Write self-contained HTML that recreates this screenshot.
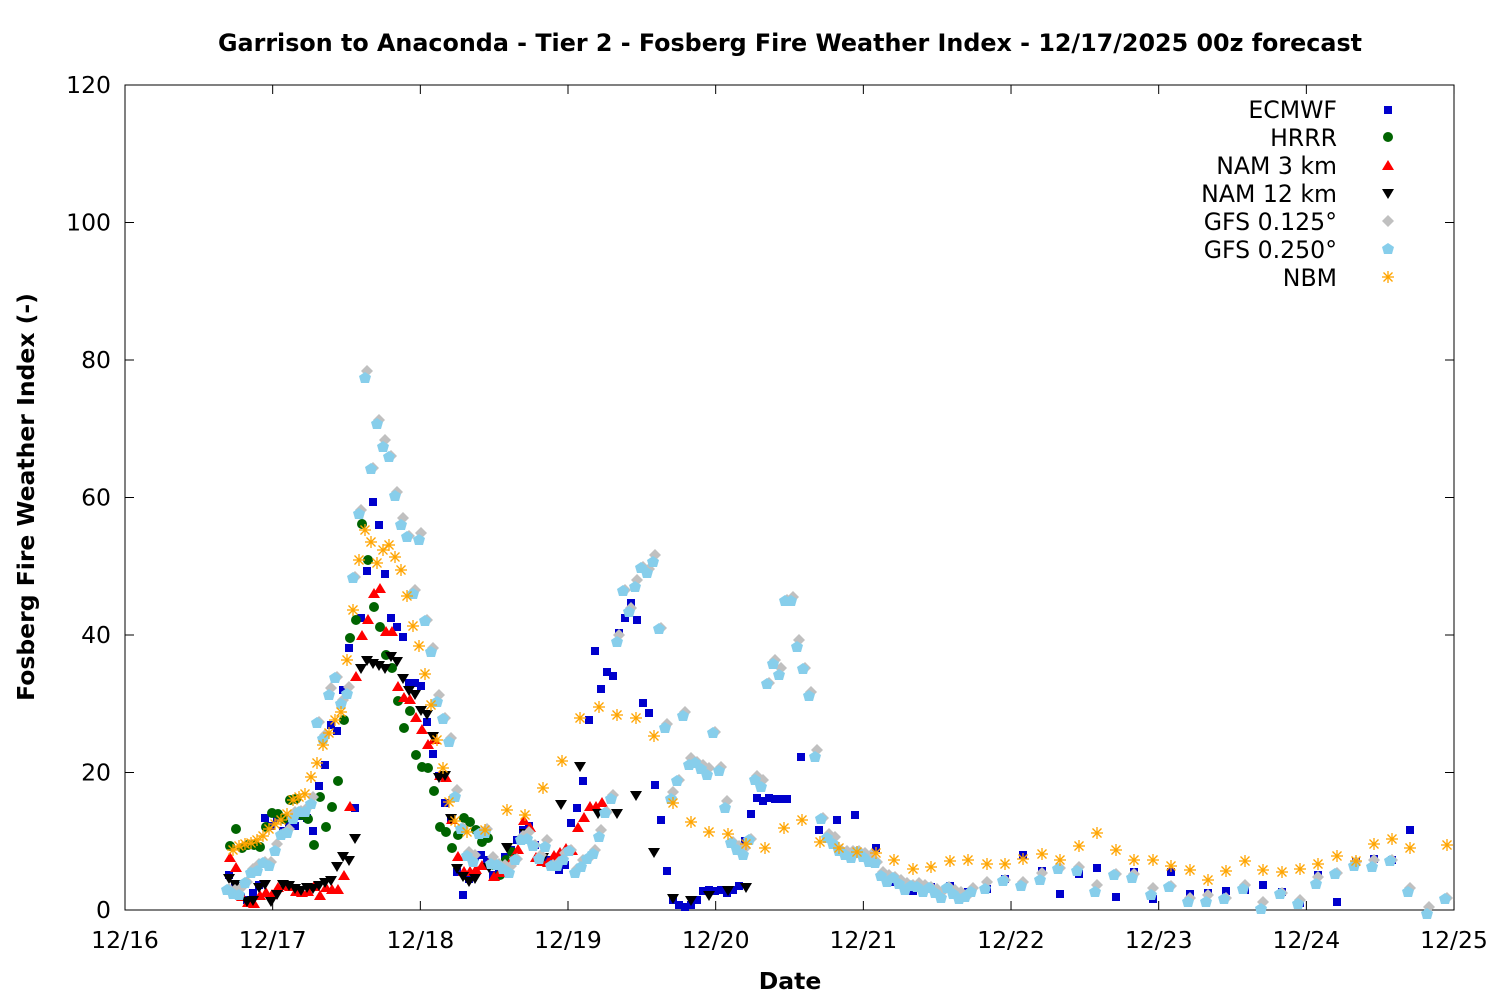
<!DOCTYPE html>
<html><head><meta charset="utf-8"><style>
html,body{margin:0;padding:0;background:#fff;}
svg{display:block;font-family:"DejaVu Sans","Liberation Sans",sans-serif;}
</style></head><body>
<svg id="s" width="1500" height="1000" viewBox="0 0 1500 1000" xmlns="http://www.w3.org/2000/svg">
<rect width="1500" height="1000" fill="#fff"/>
<text x="790" y="51" text-anchor="middle" font-size="23.8" font-weight="bold">Garrison to Anaconda - Tier 2 - Fosberg Fire Weather Index - 12/17/2025 00z forecast</text>
<rect x="125" y="85" width="1329" height="825" fill="none" stroke="#000" stroke-width="1"/>
<g id="ticks" stroke="#000" stroke-width="1"></g>
<g id="labels" font-size="23.5"></g>
<text x="790" y="989" text-anchor="middle" font-size="23.5" font-weight="bold">Date</text>
<text transform="translate(34,497) rotate(-90)" text-anchor="middle" font-size="23.5" font-weight="bold">Fosberg Fire Weather Index (-)</text>
<g font-size="23.6" text-anchor="end">
<text x="1337" y="118">ECMWF</text>
<text x="1337" y="146">HRRR</text>
<text x="1337" y="174">NAM 3 km</text>
<text x="1337" y="202">NAM 12 km</text>
<text x="1337" y="230">GFS 0.125°</text>
<text x="1337" y="258">GFS 0.250°</text>
<text x="1337" y="286">NBM</text>
</g>
<g id="pts"></g>
</svg>
<script>
const NS="http://www.w3.org/2000/svg";
const tk=document.getElementById('ticks'),lb=document.getElementById('labels'),pts=document.getElementById('pts');
function el(p,t,a,txt){const e=document.createElementNS(NS,t);for(const k in a)e.setAttribute(k,a[k]);if(txt!==undefined)e.textContent=txt;p.appendChild(e);return e;}
const xl=['12/16','12/17','12/18','12/19','12/20','12/21','12/22','12/23','12/24','12/25'];
for(let i=0;i<10;i++){const x=125+147.67*i;el(tk,'line',{x1:x,y1:910,x2:x,y2:901});el(tk,'line',{x1:x,y1:85,x2:x,y2:94});el(lb,'text',{x:x,y:948,'text-anchor':'middle'},xl[i]);}
for(let i=0;i<=6;i++){const y=910-137.5*i;el(tk,'line',{x1:125,y1:y,x2:134,y2:y});el(tk,'line',{x1:1454,y1:y,x2:1445,y2:y});el(lb,'text',{x:111,y:y+8,'text-anchor':'end'},String(i*20));}
function mk(type,x,y){
 if(type=='sq')el(pts,'rect',{x:x-4,y:y-4,width:8,height:8,fill:'#0000cc'});
 else if(type=='ci')el(pts,'circle',{cx:x,cy:y,r:5,fill:'#006400'});
 else if(type=='up')el(pts,'polygon',{points:`${x},${y-6} ${x+6},${y+4} ${x-6},${y+4}`,fill:'#ff0000'});
 else if(type=='dn')el(pts,'polygon',{points:`${x-6},${y-4} ${x+6},${y-4} ${x},${y+6}`,fill:'#000'});
 else if(type=='di')el(pts,'polygon',{points:`${x},${y-6} ${x+6},${y} ${x},${y+6} ${x-6},${y}`,fill:'#c0c0c0'});
 else if(type=='pe')el(pts,'polygon',{points:`${x},${y-6} ${x+6},${y-2} ${x+4},${y+5} ${x-4},${y+5} ${x-6},${y-2}`,fill:'#87ceeb'});
 else if(type=='as'){const g=el(pts,'g',{stroke:'#ffa500','stroke-width':1.3});el(g,'line',{x1:x-6,y1:y,x2:x+6,y2:y});el(g,'line',{x1:x,y1:y-6,x2:x,y2:y+6});el(g,'line',{x1:x-4.5,y1:y-4.5,x2:x+4.5,y2:y+4.5});el(g,'line',{x1:x-4.5,y1:y+4.5,x2:x+4.5,y2:y-4.5});}
}
function P(s){return s.match(/-?\d+/g).map(Number).reduce((a,v,i)=>{if(i%2==0)a.push([v]);else a[a.length-1].push(v);return a;},[]);}
const EC=P("(229,875),(235,885),(241,897),(247,900),(253,893),(259,885),(265,818),(271,826),(277,818),(283,831),(289,826),(295,826),(301,816),(307,818),(313,831),(319,786),(325,765),(331,725),(337,731),(343,690),(349,648),(355,808),(361,618),(367,571),(373,502),(379,525),(385,574),(391,618),(397,627),(403,637),(409,683),(415,683),(421,686),(427,722),(433,754),(439,776),(445,803),(451,820),(457,872),(463,895),(469,879),(475,857),(481,855),(487,860),(493,875),(499,872),(505,857),(511,850),(517,840),(523,830),(529,826),(535,845),(541,860),(547,860),(553,860),(559,870),(565,865),(571,823),(577,808),(583,781),(589,720),(595,651),(601,689),(607,672),(613,676),(619,633),(625,618),(631,603),(637,620),(643,703),(649,713),(655,785),(661,820),(667,871),(673,900),(679,905),(685,907),(691,905),(697,900),(703,891),(709,890),(715,891),(721,890),(727,893),(733,890),(739,886),(745,841),(751,814),(757,798),(763,801),(769,798),(775,799),(781,799),(787,799),(801,757),(819,830),(837,820),(855,815),(876,848),(894,882),(913,891),(931,887),(950,886),(968,892),(987,889),(1005,879),(1023,855),(1042,871),(1060,894),(1079,874),(1097,868),(1116,897),(1134,872),(1153,899),(1171,872),(1190,894),(1208,893),(1226,891),(1245,890),(1263,885),(1282,892),(1300,903),(1318,875),(1337,902),(1356,862),(1374,859),(1392,860),(1410,830)");
const HR=P("(230,846),(236,829),(242,848),(248,845),(254,845),(260,847),(266,827),(272,813),(278,814),(284,819),(290,800),(296,799),(302,815),(308,819),(314,845),(320,797),(326,827),(332,807),(338,781),(344,720),(350,638),(356,620),(362,524),(368,560),(374,607),(380,627),(386,655),(392,668),(398,701),(404,728),(410,711),(416,755),(422,767),(428,768),(434,791),(440,827),(446,832),(452,848),(458,835),(464,818),(470,822),(476,830),(482,842),(488,838),(494,865),(500,875),(506,860),(512,852)");
const N3=P("(230,858),(236,868),(242,897),(248,903),(254,904),(260,896),(266,893),(272,895),(278,888),(284,886),(290,887),(296,892),(302,893),(308,892),(314,887),(320,896),(326,888),(332,890),(338,890),(344,876),(350,807),(356,677),(362,636),(368,620),(374,594),(380,589),(386,632),(392,632),(398,687),(404,698),(410,700),(416,718),(422,730),(428,745),(434,740),(440,776),(446,778),(452,820),(458,857),(464,872),(470,872),(476,870),(482,866),(488,865),(494,877),(500,873),(506,867),(512,860),(518,850),(524,821),(530,828),(536,858),(542,862),(548,863),(554,856),(560,853),(566,849),(572,851),(578,828),(584,818),(590,807),(596,807),(602,803)");
const N12=P("(229,878),(235,884),(241,888),(247,901),(253,900),(259,887),(265,884),(271,901),(277,894),(283,884),(289,885),(295,888),(301,890),(307,887),(313,888),(319,885),(325,882),(331,880),(337,866),(343,856),(349,860),(355,838),(361,668),(367,660),(373,663),(379,665),(385,668),(391,656),(397,661),(403,678),(409,690),(415,694),(421,710),(427,714),(433,736),(439,777),(445,775),(451,818),(457,868),(463,876),(469,881),(475,878),(489,867),(507,847),(525,833),(543,857),(561,804),(580,766),(598,813),(617,813),(636,795),(654,852),(673,898),(691,900),(709,895),(728,890),(746,887)");
const G1=P("(229,889),(235,890),(241,888),(247,882),(253,869),(259,864),(265,862),(271,862),(277,844),(283,834),(289,829),(295,812),(301,811),(307,808),(313,797),(319,722),(325,735),(331,688),(337,677),(343,700),(349,687),(355,577),(361,510),(367,371),(373,468),(379,420),(385,440),(391,456),(397,492),(403,518),(409,536),(415,590),(421,533),(427,620),(433,648),(439,695),(445,718),(451,738),(457,790),(463,828),(469,852),(475,855),(481,833),(487,829),(493,857),(499,864),(505,865),(511,866),(517,859),(523,836),(529,832),(535,845),(541,855),(547,840),(553,865),(559,862),(565,853),(571,850),(577,869),(583,860),(589,858),(595,850),(601,830),(607,812),(613,795),(619,635),(625,590),(631,608),(637,580),(643,567),(649,569),(655,555),(661,628),(667,724),(673,792),(679,780),(685,712),(691,758),(697,762),(703,765),(709,768),(715,732),(721,767),(727,801),(733,842),(739,846),(745,848),(751,839),(757,776),(763,780),(769,683),(775,660),(781,668),(787,600),(793,597),(799,640),(805,668),(811,692),(817,750),(823,818),(829,834),(835,837),(841,850),(847,851),(853,851),(859,851),(865,853),(871,855),(877,862),(883,872),(889,875),(895,877),(901,880),(907,883),(913,885),(919,883),(925,885),(931,887),(937,889),(943,891),(949,887),(955,890),(961,892),(967,896),(973,888),(987,882),(1005,880),(1023,882),(1042,873),(1060,868),(1079,867),(1097,885),(1116,874),(1134,874),(1153,888),(1171,886),(1190,898),(1208,895),(1226,898),(1245,885),(1263,902),(1282,893),(1300,900),(1318,877),(1337,873),(1356,862),(1374,860),(1392,860),(1410,888),(1429,907),(1447,898)");
const NB=P("(233,850),(239,846),(245,844),(251,843),(257,840),(263,836),(269,829),(275,824),(281,820),(287,814),(293,800),(299,797),(305,794),(311,777),(317,763),(323,745),(329,733),(335,720),(341,712),(347,660),(353,610),(359,560),(365,530),(371,542),(377,563),(383,550),(389,545),(395,557),(401,570),(407,596),(413,626),(419,646),(425,674),(431,705),(437,740),(443,768),(449,802),(455,821),(467,832),(485,830),(507,810),(525,815),(543,788),(562,761),(580,718),(599,707),(617,715),(636,718),(654,736),(673,803),(691,822),(709,832),(728,834),(746,844),(765,848),(784,828),(802,820),(820,842),(839,848),(857,852),(876,853),(894,860),(913,869),(931,867),(950,861),(968,860),(987,864),(1005,864),(1023,859),(1042,854),(1060,860),(1079,846),(1097,833),(1116,850),(1134,860),(1153,860),(1171,866),(1190,870),(1208,880),(1226,871),(1245,861),(1263,870),(1282,872),(1300,869),(1318,864),(1337,856),(1356,861),(1374,844),(1392,839),(1410,848),(1447,845)");
EC.forEach(p=>mk('sq',p[0],p[1]));
HR.forEach(p=>mk('ci',p[0],p[1]));
N3.forEach(p=>mk('up',p[0],p[1]));
N12.forEach(p=>mk('dn',p[0],p[1]));
G1.forEach(p=>mk('di',p[0],p[1]));
G1.forEach((p,i)=>mk('pe',p[0]-2,p[1]+((i%3)-1)*3+4));
NB.forEach(p=>mk('as',p[0],p[1]));
mk('sq',1388,110);mk('ci',1388,137);mk('up',1388,166);mk('dn',1388,193);mk('di',1388,221);mk('pe',1388,249);mk('as',1388,277);
</script>
</body></html>
